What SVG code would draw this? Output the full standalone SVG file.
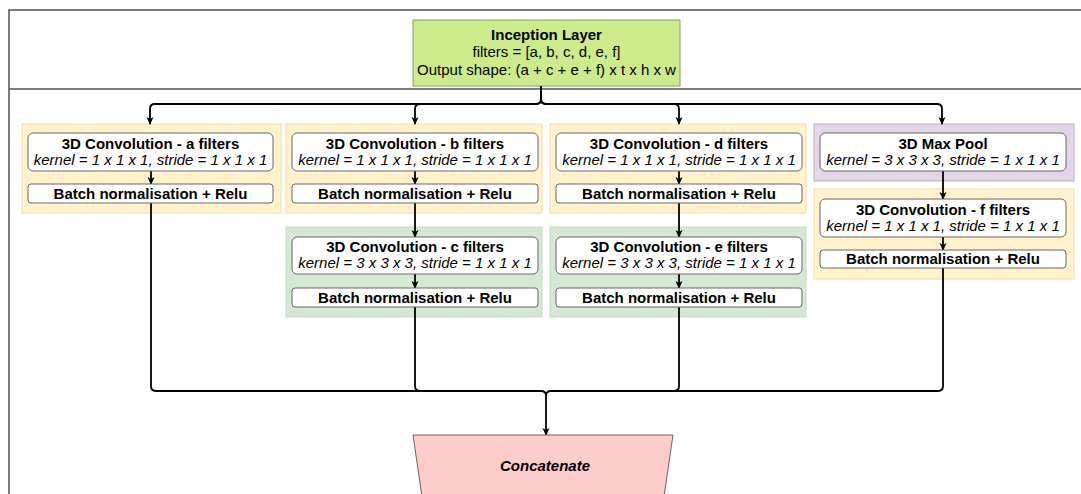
<svg xmlns="http://www.w3.org/2000/svg" width="1081" height="494" viewBox="0 0 1081 494">
<defs>
<marker id="arr" markerWidth="8" markerHeight="8" viewBox="0 0 8 8" refX="7" refY="4" orient="auto" markerUnits="userSpaceOnUse">
<path d="M0,0.5 L8,4 L0,7.5 L2,4 Z" fill="#000"/>
</marker>
<style>
text{font-family:"Liberation Sans",Arial,sans-serif;font-size:15px;fill:#000;text-anchor:middle}
.b{font-weight:bold}
.i{font-style:italic}
.box{fill:#fff;stroke:#666;stroke-width:1}
.yel{fill:#fff2cc;stroke:#efdcaa;stroke-width:1}
.grn{fill:#d5e8d4;stroke:#c6dbc4;stroke-width:1}
.pur{fill:#e1d5e7;stroke:#bfaccc;stroke-width:1}
.e{fill:none;stroke:#000;stroke-width:1.8}
.ea{fill:none;stroke:#000;stroke-width:1.8;marker-end:url(#arr)}
</style>
</defs>
<rect width="1081" height="494" fill="#fff"/>
<g id="frame">
<rect x="9" y="10" width="1100" height="500" fill="none" stroke="#333" stroke-width="1.3"/>
<line x1="9" y1="89" x2="1081" y2="89" stroke="#555" stroke-width="1.3"/>
</g>
<g id="containers">
<rect class="yel" x="22" y="124" width="259" height="89"/>
<rect class="yel" x="286" y="124" width="256" height="89"/>
<rect class="grn" x="286" y="227" width="256" height="90"/>
<rect class="yel" x="550" y="124" width="256" height="89"/>
<rect class="grn" x="550" y="227" width="256" height="90"/>
<rect class="pur" x="814" y="124" width="260" height="57"/>
<rect class="yel" x="814" y="189" width="260" height="90"/>
</g>
<g id="inception">
<rect x="413" y="20" width="267" height="66" fill="#cdeb8b" stroke="#8a9a74" stroke-width="1"/>
<text class="b" x="546.5" y="40">Inception Layer</text>
<text x="546.5" y="57">filters = [a, b, c, d, e, f]</text>
<text x="546.5" y="75">Output shape: (a + c + e + f) x t x h x w</text>
</g>
<g id="connectors">
<path class="ea" d="M541 86 V99 Q541 104 536 104 H155 Q150 104 150 109 V124"/>
<path class="ea" d="M541 86 V99 Q541 104 536 104 H420 Q415 104 415 109 V124"/>
<path class="ea" d="M541 86 V99 Q541 104 546 104 H674 Q679 104 679 109 V124"/>
<path class="ea" d="M541 86 V99 Q541 104 546 104 H937 Q942 104 942 109 V124"/>
<path class="ea" d="M151 171 V184"/>
<path class="ea" d="M415 171 V184"/>
<path class="ea" d="M679 171 V184"/>
<path class="ea" d="M943 171 V199"/>
<path class="ea" d="M415 203 V237"/>
<path class="ea" d="M679 203 V237"/>
<path class="ea" d="M415 274 V288"/>
<path class="ea" d="M679 274 V288"/>
<path class="ea" d="M943 237 V250"/>
<path class="e" d="M151 203 V386 Q151 391 156 391 H541 Q546 391 546 396"/>
<path class="e" d="M415 307 V386 Q415 391 420 391 H541"/>
<path class="e" d="M679 307 V386 Q679 391 674 391 H551"/>
<path class="e" d="M943 268 V386 Q943 391 938 391 H551 Q546 391 546 396"/>
<path class="ea" d="M546 396 V435"/>
</g>
<g id="conv-a">
<rect class="box" x="28" y="133" width="245" height="38" rx="5"/>
<text class="b" x="150.5" y="149">3D Convolution - a filters</text>
<text class="i" x="150.5" y="165">kernel = 1 x 1 x 1, stride = 1 x 1 x 1</text>
</g>
<g id="bn-a">
<rect class="box" x="28" y="184" width="245" height="19" rx="3"/>
<text class="b" x="150.5" y="199">Batch normalisation + Relu</text>
</g>
<g id="conv-b">
<rect class="box" x="292" y="133" width="246" height="38" rx="5"/>
<text class="b" x="415" y="149">3D Convolution - b filters</text>
<text class="i" x="415" y="165">kernel = 1 x 1 x 1, stride = 1 x 1 x 1</text>
</g>
<g id="bn-b">
<rect class="box" x="292" y="184" width="246" height="19" rx="3"/>
<text class="b" x="415" y="199">Batch normalisation + Relu</text>
</g>
<g id="conv-c">
<rect class="box" x="292" y="237" width="246" height="37" rx="5"/>
<text class="b" x="415" y="252">3D Convolution - c filters</text>
<text class="i" x="415" y="268">kernel = 3 x 3 x 3, stride = 1 x 1 x 1</text>
</g>
<g id="bn-c">
<rect class="box" x="292" y="288" width="246" height="19" rx="3"/>
<text class="b" x="415" y="303">Batch normalisation + Relu</text>
</g>
<g id="conv-d">
<rect class="box" x="556" y="133" width="246" height="38" rx="5"/>
<text class="b" x="679" y="149">3D Convolution - d filters</text>
<text class="i" x="679" y="165">kernel = 1 x 1 x 1, stride = 1 x 1 x 1</text>
</g>
<g id="bn-d">
<rect class="box" x="556" y="184" width="246" height="19" rx="3"/>
<text class="b" x="679" y="199">Batch normalisation + Relu</text>
</g>
<g id="conv-e">
<rect class="box" x="556" y="237" width="246" height="37" rx="5"/>
<text class="b" x="679" y="252">3D Convolution - e filters</text>
<text class="i" x="679" y="268">kernel = 3 x 3 x 3, stride = 1 x 1 x 1</text>
</g>
<g id="bn-e">
<rect class="box" x="556" y="288" width="246" height="19" rx="3"/>
<text class="b" x="679" y="303">Batch normalisation + Relu</text>
</g>
<g id="maxpool">
<rect class="box" x="820" y="133" width="246" height="38" rx="5"/>
<text class="b" x="943" y="149">3D Max Pool</text>
<text class="i" x="943" y="165">kernel = 3 x 3 x 3, stride = 1 x 1 x 1</text>
</g>
<g id="conv-f">
<rect class="box" x="820" y="199" width="246" height="38" rx="5"/>
<text class="b" x="943" y="215">3D Convolution - f filters</text>
<text class="i" x="943" y="231">kernel = 1 x 1 x 1, stride = 1 x 1 x 1</text>
</g>
<g id="bn-f">
<rect class="box" x="820" y="250" width="246" height="18" rx="3"/>
<text class="b" x="943" y="264">Batch normalisation + Relu</text>
</g>
<g id="concatenate">
<path d="M413 435 H673 L662 510 H424 Z" fill="#ffcccc" stroke="#666" stroke-width="1"/>
<text class="b i" x="545" y="471">Concatenate</text>
</g>
</svg>
